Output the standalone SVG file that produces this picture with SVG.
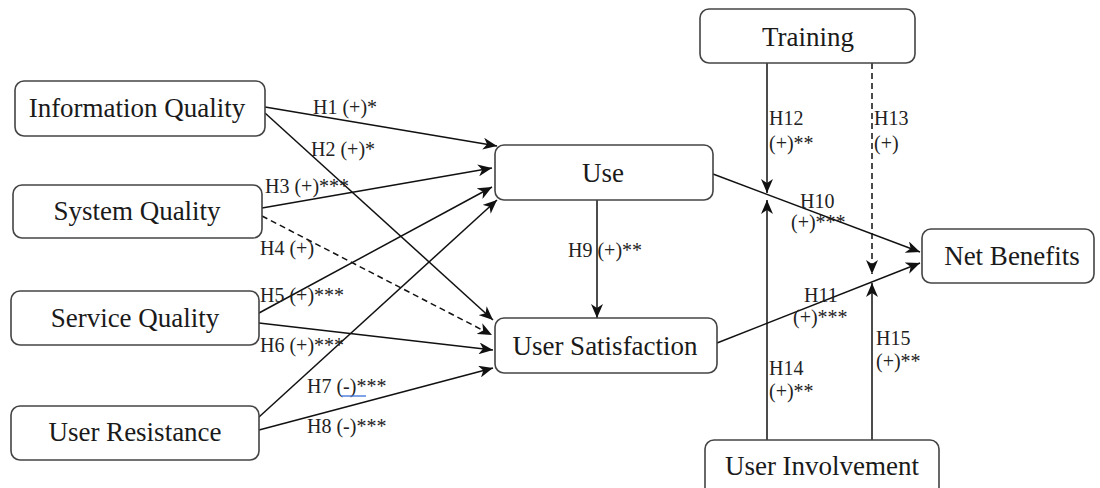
<svg xmlns="http://www.w3.org/2000/svg" width="1100" height="488" viewBox="0 0 1100 488" font-family="'Liberation Serif', 'Times New Roman', 'DejaVu Serif', serif">
<style>
.box{fill:#fff;stroke:#444;stroke-width:1.6}
.nt{font-family:'Liberation Serif','Times New Roman','DejaVu Serif',serif;font-size:27px;fill:#1a1a1a;text-anchor:middle}
.lbl{font-family:'Liberation Serif','Times New Roman','DejaVu Serif',serif;font-size:20px;fill:#222}
.c{fill:none;stroke:#111;stroke-width:1.5}
.d{stroke-dasharray:6 4}
</style>
<defs>
<marker id="ah" viewBox="0 0 14 12" refX="14" refY="6" markerWidth="14" markerHeight="12" orient="auto" markerUnits="userSpaceOnUse">
<path d="M0,0 L14,6 L0,12 L4,6 z" fill="#111"/>
</marker>
</defs>
<rect width="1100" height="488" fill="#fff"/>
<g id="connectors">
<path class="c" d="M265,107 L497,146" marker-end="url(#ah)"/>
<path class="c" d="M265,113 L493,320" marker-end="url(#ah)"/>
<path class="c" d="M262,208 L492,168" marker-end="url(#ah)"/>
<path class="c d" d="M262,216 L492,335" marker-end="url(#ah)"/>
<path class="c" d="M259,313 L492,187" marker-end="url(#ah)"/>
<path class="c" d="M259,323 L493,350" marker-end="url(#ah)"/>
<path class="c" d="M259,417 L497,200" marker-end="url(#ah)"/>
<path class="c" d="M259,430 L493,368" marker-end="url(#ah)"/>
<path class="c" d="M597,200 L597,318" marker-end="url(#ah)"/>
<path class="c" d="M713,174 L920,252" marker-end="url(#ah)"/>
<path class="c" d="M717,343 L920,263" marker-end="url(#ah)"/>
<path class="c" d="M767,63 L767,193" marker-end="url(#ah)"/>
<path class="c d" d="M872,63 L872,274" marker-end="url(#ah)"/>
<path class="c" d="M767,440 L767,200" marker-end="url(#ah)"/>
<path class="c" d="M872,440 L872,283" marker-end="url(#ah)"/>
</g>
<g id="labels">
<text class="lbl" x="313" y="114">H1 (+)*</text>
<text class="lbl" x="311" y="156">H2 (+)*</text>
<text class="lbl" x="265" y="193">H3 (+)***</text>
<text class="lbl" x="260" y="255">H4 (+)</text>
<text class="lbl" x="260" y="302">H5 (+)***</text>
<text class="lbl" x="260" y="352">H6 (+)***</text>
<text class="lbl" x="307" y="393">H7 (-)***</text>
<line x1="341" y1="396" x2="366" y2="396" stroke="#3a6fd8" stroke-width="1.3"/>
<text class="lbl" x="307" y="433">H8 (-)***</text>
<text class="lbl" x="568" y="257">H9 (+)**</text>
<text class="lbl" x="800" y="208">H10</text>
<text class="lbl" x="791" y="229">(+)***</text>
<text class="lbl" x="804" y="302">H11</text>
<text class="lbl" x="793" y="324">(+)***</text>
<text class="lbl" x="769" y="125">H12</text>
<text class="lbl" x="769" y="150">(+)**</text>
<text class="lbl" x="874" y="125">H13</text>
<text class="lbl" x="874" y="150">(+)</text>
<text class="lbl" x="769" y="375">H14</text>
<text class="lbl" x="769" y="398">(+)**</text>
<text class="lbl" x="876" y="345">H15</text>
<text class="lbl" x="876" y="368">(+)**</text>
</g>
<g id="n-information-quality"><rect class="box" x="15" y="81" width="250" height="55" rx="9"/><text class="nt" x="137" y="117">Information Quality</text></g>
<g id="n-system-quality"><rect class="box" x="13" y="185" width="249" height="53" rx="9"/><text class="nt" x="137" y="220">System Quality</text></g>
<g id="n-service-quality"><rect class="box" x="11" y="291" width="248" height="54" rx="9"/><text class="nt" x="135" y="327">Service Quality</text></g>
<g id="n-user-resistance"><rect class="box" x="11" y="406" width="248" height="54" rx="9"/><text class="nt" x="135" y="441">User Resistance</text></g>
<g id="n-use"><rect class="box" x="495" y="145" width="218" height="55" rx="9"/><text class="nt" x="603" y="182">Use</text></g>
<g id="n-user-satisfaction"><rect class="box" x="495" y="318" width="222" height="55" rx="9"/><text class="nt" x="605" y="355">User Satisfaction</text></g>
<g id="n-training"><rect class="box" x="700" y="9" width="215" height="54" rx="9"/><text class="nt" x="808" y="46">Training</text></g>
<g id="n-net-benefits"><rect class="box" x="922" y="229" width="172" height="54" rx="9"/><text class="nt" x="1012" y="265">Net Benefits</text></g>
<g id="n-user-involvement"><rect class="box" x="705" y="440" width="234" height="58" rx="9"/><text class="nt" x="822" y="475">User Involvement</text></g>
</svg>
